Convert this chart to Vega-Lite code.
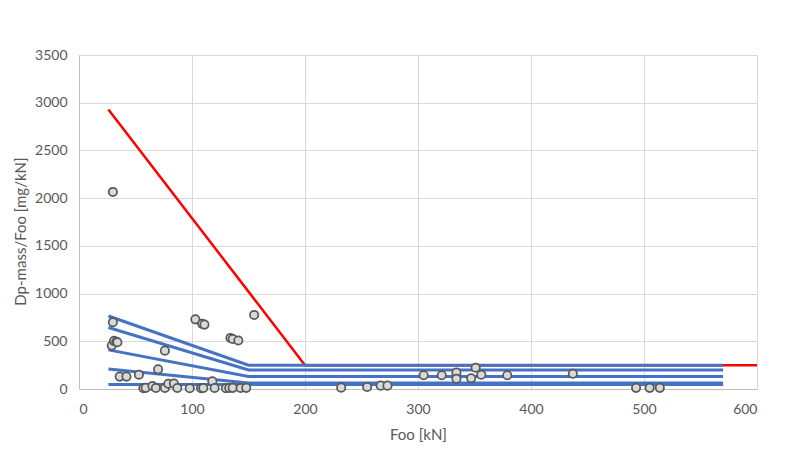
{
  "$schema": "https://vega.github.io/schema/vega-lite/v6.json",
  "width": 678,
  "height": 334,
  "autosize": {"type": "none"},
  "padding": {"left": 79, "top": 55, "right": 36, "bottom": 77},
  "background": "white",
  "config": {
    "view": {"stroke": null},
    "axis": {
      "labelFont": "Lato",
      "labelFontSize": 14,
      "labelColor": "#595959",
      "titleFont": "Lato",
      "titleFontSize": 15,
      "titleFontWeight": "normal",
      "titleColor": "#595959",
      "ticks": false,
      "gridColor": "#d9d9d9",
      "gridWidth": 1,
      "domainColor": "#bfbfbf",
      "domainWidth": 1
    }
  },
  "datasets": {
    "lines": [
      {"series": "red", "x": 26, "y": 2930},
      {"series": "red", "x": 200, "y": 250},
      {"series": "red", "x": 600, "y": 250},
      {"series": "b1", "x": 26, "y": 765},
      {"series": "b1", "x": 150, "y": 250},
      {"series": "b1", "x": 570, "y": 250},
      {"series": "b2", "x": 26, "y": 645},
      {"series": "b2", "x": 150, "y": 200},
      {"series": "b2", "x": 570, "y": 200},
      {"series": "b3", "x": 26, "y": 410},
      {"series": "b3", "x": 150, "y": 130},
      {"series": "b3", "x": 570, "y": 130},
      {"series": "b4", "x": 26, "y": 210},
      {"series": "b4", "x": 150, "y": 62},
      {"series": "b4", "x": 570, "y": 62},
      {"series": "b5", "x": 26, "y": 48},
      {"series": "b5", "x": 150, "y": 48},
      {"series": "b5", "x": 570, "y": 48}
    ],
    "points": [
      {"x": 30, "y": 2065}, {"x": 30, "y": 700}, {"x": 29, "y": 455}, {"x": 31, "y": 505},
      {"x": 33, "y": 495}, {"x": 34, "y": 490}, {"x": 36, "y": 130}, {"x": 42, "y": 130},
      {"x": 53, "y": 150}, {"x": 70, "y": 206}, {"x": 76, "y": 402}, {"x": 103, "y": 730},
      {"x": 109, "y": 683}, {"x": 111, "y": 675}, {"x": 134, "y": 535}, {"x": 136, "y": 524},
      {"x": 141, "y": 508}, {"x": 155, "y": 776}, {"x": 118, "y": 81},
      {"x": 57, "y": 8}, {"x": 59, "y": 12}, {"x": 65, "y": 31}, {"x": 68, "y": 10},
      {"x": 76, "y": 10}, {"x": 79, "y": 55}, {"x": 84, "y": 58}, {"x": 87, "y": 10},
      {"x": 98, "y": 8}, {"x": 108, "y": 8}, {"x": 110, "y": 10}, {"x": 120, "y": 10},
      {"x": 130, "y": 8}, {"x": 133, "y": 10}, {"x": 136, "y": 12}, {"x": 143, "y": 10},
      {"x": 148, "y": 12},
      {"x": 232, "y": 14}, {"x": 255, "y": 21}, {"x": 267, "y": 35}, {"x": 273, "y": 35},
      {"x": 305, "y": 144}, {"x": 321, "y": 144}, {"x": 334, "y": 171}, {"x": 334, "y": 108},
      {"x": 347, "y": 112}, {"x": 351, "y": 223}, {"x": 356, "y": 150}, {"x": 379, "y": 144},
      {"x": 437, "y": 160}, {"x": 493, "y": 12}, {"x": 505, "y": 12}, {"x": 514, "y": 12}
    ]
  },
  "layer": [
    {
      "data": {"name": "lines"},
      "transform": [{"filter": "datum.series === 'red'"}],
      "mark": {"type": "line", "color": "#FF0000", "strokeWidth": 2.5, "clip": true},
      "encoding": {
        "x": {"field": "x", "type": "quantitative", "scale": {"domain": [0, 600], "nice": false},
          "axis": {"values": [0, 100, 200, 300, 400, 500, 600], "format": "d", "title": "Foo [kN]", "labelPadding": 13, "titlePadding": 11, "grid": true}},
        "y": {"field": "y", "type": "quantitative", "scale": {"domain": [0, 3500], "nice": false},
          "axis": {"values": [0, 500, 1000, 1500, 2000, 2500, 3000, 3500], "format": "d", "title": "Dp-mass/Foo [mg/kN]", "labelPadding": 12, "titlePadding": 6, "titleY": 176, "grid": true}}
      }
    },
    {
      "data": {"name": "lines"},
      "transform": [{"filter": "datum.series !== 'red'"}],
      "mark": {"type": "line", "color": "#4472C4", "strokeWidth": 3},
      "encoding": {
        "x": {"field": "x", "type": "quantitative"},
        "y": {"field": "y", "type": "quantitative"},
        "detail": {"field": "series"}
      }
    },
    {
      "data": {"name": "points"},
      "mark": {"type": "point", "shape": "circle", "filled": true, "fill": "#d9d9d9", "stroke": "#595959", "strokeWidth": 1.75, "size": 70, "opacity": 1},
      "encoding": {
        "x": {"field": "x", "type": "quantitative"},
        "y": {"field": "y", "type": "quantitative"}
      }
    }
  ]
}
